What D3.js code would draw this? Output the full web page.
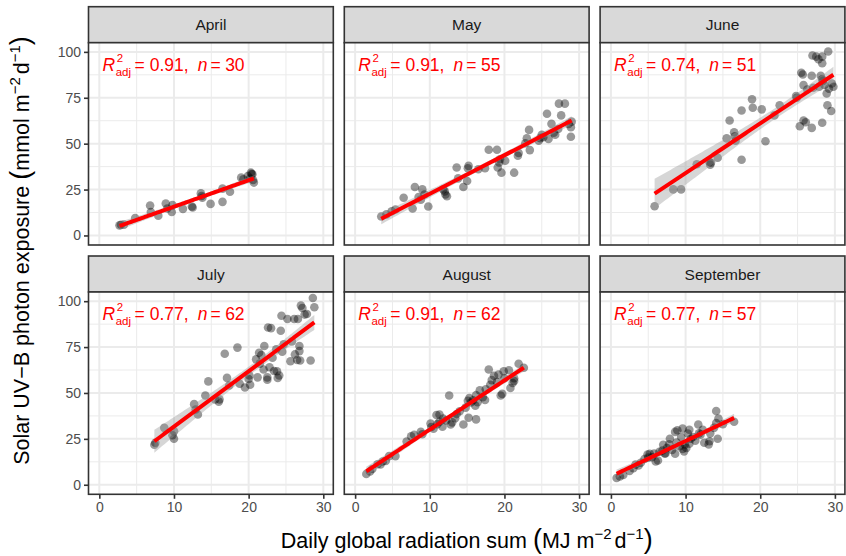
<!DOCTYPE html>
<html>
<head>
<meta charset="utf-8">
<script src="https://cdn.jsdelivr.net/npm/d3@7"></script>
<style>
  html, body { margin: 0; padding: 0; background: #ffffff; }
  svg { display: block; font-family: "Liberation Sans", Arial, Helvetica, sans-serif; }
</style>
</head>
<body>
<svg id="chart" width="846" height="556"></svg>
<script>
// Monthly facets
const months = ["April", "May", "June", "July", "August", "September"];
const r2Values = ["0.91", "0.91", "0.74", "0.77", "0.91", "0.77"];
const xTicks = [0, 10, 20, 30];
const yTicks = [0, 25, 50, 75, 100];
const xMinor = [5, 15, 25];
const yMinor = [12.5, 37.5, 62.5, 87.5];

// Daily observations: [global radiation (MJ m-2 d-1), UV-B photon exposure (mmol m-2 d-1)]
const april = [[2.7,5.5],[2.9,5.8],[3.3,5.9],[4.8,9.5],[6.8,16.3],[6.9,12.8],[7.9,10.8],[8.9,17.4],
  [9.1,14.7],[9.7,12.8],[9.8,16.5],[11.2,14.5],[12.4,15.8],[12.5,15.2],[13.6,22.9],[13.8,20.5],
  [14.9,17.2],[16.5,25.5],[16.5,18.3],[17.5,23.8],[19.0,31.5],[19.3,30.6],[19.9,32.4],[20.2,31.0],
  [20.3,34.2],[20.4,33.6],[20.5,33.3],[20.7,28.8],[20.6,30.2],[13.7,21.5]];

const may = [[3.5,10.3],[4.2,11.5],[4.9,13.2],[5.4,14.1],[6.5,20.5],[7.7,14.7],[8.0,26.4],[8.5,20.9],
  [8.8,19.5],[9.0,25.1],[9.3,22.3],[9.8,15.8],[11.8,25.1],[12.1,22.3],[12.3,21.4],[12.0,24.0],
  [13.6,37.0],[13.8,31.1],[14.5,26.4],[15.0,29.7],[15.2,37.9],[15.1,36.6],[16.5,36.1],[17.4,36.6],
  [17.9,46.7],[19.0,46.7],[19.3,39.7],[19.6,34.2],[20.1,40.7],[19.1,37.0],[19.4,41.5],[21.3,34.2],
  [21.8,43.4],[21.9,44.9],[22.8,50.2],[23.0,52.9],[23.3,57.5],[23.4,46.5],[24.6,51.6],[25.0,54.8],
  [25.2,53.5],[25.7,66.3],[25.9,52.6],[26.3,60.8],[26.8,54.9],[27.3,71.8],[27.6,65.4],[28.1,71.8],
  [28.6,60.8],[28.9,59.0],[28.9,53.8],[29.0,62.0],[24.8,53.0],[26.6,56.0],[27.2,58.0]];

const june = [[5.85,15.9],[8.35,25.1],[9.4,25.1],[11.5,38.8],[13.3,38.5],[13.4,39.6],[14.3,42.3],
  [15.5,52.9],[15.9,62.6],[16.5,56.2],[16.7,51.6],[17.5,68.1],[17.5,41.2],[18.9,74.2],[19.0,69.6],
  [20.2,68.7],[20.7,51.3],[21.9,65.4],[22.6,70.9],[24.8,76.0],[25.3,59.5],[25.8,62.6],[26.1,61.7],
  [26.9,58.6],[25.5,88.6],[25.7,87.7],[26.9,87.0],[25.8,81.9],[27.0,98.0],[27.5,97.4],[28.3,97.4],
  [28.3,93.8],[29.1,100.2],[28.3,85.0],[28.4,84.2],[27.9,81.0],[28.9,77.3],[29.0,70.9],[29.5,67.8],
  [28.3,61.4],[29.8,81.0],[29.6,82.8],[26.3,79.5],[27.1,80.5],[28.1,87.0],[28.6,82.0],[29.2,80.0],
  [16.6,54.0],[13.2,40.0],[27.8,96.0],[24.9,75.0]];

const july = [[7.37,21.8],[7.5,22.9],[8.7,31.0],[10.0,29.2],[10.0,25.1],[9.8,27.0],[12.7,43.9],
  [13.2,38.3],[14.2,48.6],[14.6,56.3],[16.0,45.3],[16.1,46.5],[16.8,71.4],[17.1,58.2],[17.4,54.1],
  [18.5,74.7],[18.8,55.0],[20.0,57.6],[20.2,54.5],[21.0,68.3],[21.2,58.5],[21.4,71.9],[21.7,70.6],
  [22.1,75.6],[22.0,62.8],[22.5,57.2],[22.6,85.7],[23.0,85.3],[22.5,58.5],[23.2,69.2],[23.7,73.8],
  [23.8,61.8],[23.9,58.2],[24.1,59.5],[24.3,83.9],[24.4,92.1],[24.7,76.5],[25.2,90.3],[25.6,67.3],
  [26.1,90.3],[26.6,90.3],[26.8,75.6],[26.8,72.8],[26.9,67.7],[27.0,97.6],[27.2,96.3],[26.5,68.0],
  [27.5,92.7],[28.3,67.7],[28.6,101.7],[28.8,96.7],[20.1,59.5],[21.5,66.0],[22.8,64.0],[23.4,62.0],
  [24.5,72.5],[25.8,78.0],[26.2,71.0],[27.8,93.0],[19.5,53.0],[15.5,46.5],[12.9,41.0]];

const august = [[1.5,5.9],[2.0,7.2],[2.3,8.6],[3.0,11.2],[3.4,11.0],[3.7,12.7],[4.1,13.0],[4.55,15.6],
  [5.4,15.6],[7.5,26.4],[7.9,27.2],[8.8,28.8],[10.1,33.4],[10.2,31.5],[10.9,38.0],[11.3,38.3],
  [11.3,34.3],[11.7,31.6],[11.8,36.0],[12.6,48.6],[12.8,32.8],[13.0,34.0],[13.6,38.5],[13.4,36.2],
  [14.5,32.8],[15.2,36.5],[15.3,47.2],[15.1,45.8],[15.5,44.8],[16.2,35.6],[16.1,43.1],[16.2,48.8],
  [16.7,51.4],[17.1,47.7],[17.4,46.2],[17.9,62.8],[18.1,54.5],[18.6,59.4],[19.2,60.0],[19.5,48.6],
  [19.7,49.5],[19.9,61.8],[20.6,62.4],[20.8,52.7],[21.1,55.4],[21.3,56.5],[21.9,65.9],[22.6,63.7],
  [12.2,35.0],[14.0,40.0],[14.8,42.0],[15.8,46.0],[16.4,45.0],[17.5,52.0],[18.3,57.0],[19.0,56.0],
  [20.0,58.0],[21.3,58.0],[9.0,27.5],[10.5,30.5],[11.0,33.0],[6.9,23.5]];

const september = [[0.76,3.7],[1.2,4.5],[1.65,5.3],[3.3,11.0],[3.7,10.5],[4.9,16.5],[5.2,16.9],
  [5.0,14.8],[6.0,12.7],[6.3,13.2],[7.0,21.8],[6.9,18.7],[7.3,17.0],[7.9,25.1],[8.6,28.8],[8.9,29.7],
  [8.6,16.9],[9.6,30.6],[9.8,18.2],[9.6,19.5],[10.3,27.9],[10.7,25.1],[10.5,22.4],[11.7,32.8],
  [12.0,27.3],[12.5,22.9],[13.2,23.7],[13.1,22.0],[14.1,40.2],[14.4,36.1],[14.3,25.1],[14.1,33.6],
  [16.5,34.3],[3.0,9.0],[4.0,12.0],[4.5,14.0],[5.5,15.0],[5.8,17.0],[6.5,18.0],[7.2,17.0],[7.5,20.0],
  [7.8,22.0],[8.2,19.0],[8.8,23.0],[9.2,21.0],[9.4,26.0],[9.9,22.0],[10.1,20.0],[10.5,30.0],
  [11.0,26.0],[11.3,24.0],[11.8,28.0],[12.3,30.0],[13.3,28.0],[13.8,31.0],[15.0,33.0],[2.5,7.5]];

const monthData = [april, may, june, july, august, september];

// ---- layout ----
const svg = d3.select("#chart");
const panelW = 244.8, panelH = 202.3, gap = 11, stripH = 36;
const left0 = 88.5, top0 = 6.7, rowStep = stripH + panelH + gap;

const x = d3.scaleLinear().domain([-1.45, 31.34]).range([0, panelW]);
const y = d3.scaleLinear().domain([-5.2, 105.0]).range([panelH, 0]);

// Student t quantile (0.975) approximation for the confidence band
const tq = df => 1.96 + 2.4 / df + 2.0 / (df * df);

function linearFit(pts) {
  const n = pts.length;
  const mx = d3.mean(pts, d => d[0]), my = d3.mean(pts, d => d[1]);
  const sxx = d3.sum(pts, d => (d[0] - mx) ** 2);
  const sxy = d3.sum(pts, d => (d[0] - mx) * (d[1] - my));
  const b = sxy / sxx, a = my - b * mx;
  const rss = d3.sum(pts, d => (d[1] - a - b * d[0]) ** 2);
  const s = Math.sqrt(rss / (n - 2));
  const t = tq(n - 2);
  const [x0, x1] = d3.extent(pts, d => d[0]);
  return d3.range(80).map(i => {
    const xv = x0 + (x1 - x0) * i / 79;
    const yv = a + b * xv;
    const se = s * Math.sqrt(1 / n + (xv - mx) ** 2 / sxx);
    return { x: xv, y: yv, lo: yv - t * se, hi: yv + t * se };
  });
}

months.forEach((month, i) => {
  const col = i % 3, row = Math.floor(i / 3);
  const px = left0 + col * (panelW + gap);
  const stripY = top0 + row * rowStep;
  const py = stripY + stripH;
  const pts = monthData[i];

  // strip
  const strip = svg.append("g").attr("transform", `translate(${px},${stripY})`);
  strip.append("rect").attr("width", panelW).attr("height", stripH)
    .attr("fill", "#d9d9d9").attr("stroke", "#333333").attr("stroke-width", 1.6);
  strip.append("text").attr("x", panelW / 2).attr("y", stripH / 2 + 5.5)
    .attr("text-anchor", "middle").attr("fill", "#1a1a1a").style("font-size", "15.5px").text(month);

  const g = svg.append("g").attr("transform", `translate(${px},${py})`);
  const clipId = `clip${i}`;
  g.append("clipPath").attr("id", clipId).append("rect").attr("width", panelW).attr("height", panelH);

  g.append("rect").attr("width", panelW).attr("height", panelH).attr("fill", "#ffffff");

  // grid
  const grid = g.append("g");
  grid.selectAll(".xm").data(xMinor).join("line")
    .attr("x1", d => x(d)).attr("x2", d => x(d)).attr("y1", 0).attr("y2", panelH)
    .attr("stroke", "#ebebeb").attr("stroke-width", 1);
  grid.selectAll(".ym").data(yMinor).join("line")
    .attr("y1", d => y(d)).attr("y2", d => y(d)).attr("x1", 0).attr("x2", panelW)
    .attr("stroke", "#ebebeb").attr("stroke-width", 1);
  grid.selectAll(".xM").data(xTicks).join("line")
    .attr("x1", d => x(d)).attr("x2", d => x(d)).attr("y1", 0).attr("y2", panelH)
    .attr("stroke", "#ebebeb").attr("stroke-width", 2);
  grid.selectAll(".yM").data(yTicks).join("line")
    .attr("y1", d => y(d)).attr("y2", d => y(d)).attr("x1", 0).attr("x2", panelW)
    .attr("stroke", "#ebebeb").attr("stroke-width", 2);

  const plot = g.append("g").attr("clip-path", `url(#${clipId})`);

  // observations
  plot.selectAll("circle").data(pts).join("circle")
    .attr("cx", d => x(d[0])).attr("cy", d => y(d[1])).attr("r", 4.3)
    .attr("fill", "#000000").attr("fill-opacity", 0.4);

  // linear fit with 95% confidence band
  const fit = linearFit(pts);
  plot.append("path").datum(fit)
    .attr("d", d3.area().x(d => x(d.x)).y0(d => y(d.lo)).y1(d => y(d.hi)))
    .attr("fill", "#999999").attr("fill-opacity", 0.4);
  plot.append("path").datum(fit)
    .attr("d", d3.line().x(d => x(d.x)).y(d => y(d.y)))
    .attr("fill", "none").attr("stroke", "#ff0000").attr("stroke-width", 4);

  // fit statistics: R with stacked superscript "2" and subscript "adj"
  const lab = g.append("g").attr("fill", "#ff0000").style("font-size", "17.5px");
  const rText = lab.append("text").attr("x", 14).attr("y", 28).style("font-style", "italic").text("R");
  const rW = rText.node().getComputedTextLength();
  lab.append("text").attr("x", 14 + rW + 1.5).attr("y", 19).style("font-size", "11.5px").text("2");
  const adj = lab.append("text").attr("x", 14 + rW + 0.5).attr("y", 33).style("font-size", "11.5px").text("adj");
  const adjW = adj.node().getComputedTextLength();
  const rest = lab.append("text").attr("x", 14 + rW + 0.5 + adjW + 3.5).attr("y", 28);
  rest.append("tspan").text("=");
  rest.append("tspan").attr("dx", 5).text(`${r2Values[i]},`);
  rest.append("tspan").attr("dx", 9).style("font-style", "italic").text("n");
  rest.append("tspan").attr("dx", 3).text("=");
  rest.append("tspan").attr("dx", 4.5).text(pts.length);

  // border
  g.append("rect").attr("width", panelW).attr("height", panelH)
    .attr("fill", "none").attr("stroke", "#333333").attr("stroke-width", 1.6);

  // axes
  if (col === 0) {
    const ya = g.append("g").call(d3.axisLeft(y).tickValues(yTicks).tickSize(4.5).tickPadding(3));
    ya.select(".domain").remove();
    ya.selectAll(".tick line").attr("stroke", "#333333").attr("stroke-width", 1.6);
    ya.selectAll(".tick text").attr("fill", "#4d4d4d").style("font-size", "14px")
      .style("font-family", "'Liberation Sans', Arial, sans-serif");
  }
  if (row === 1) {
    const xa = g.append("g").attr("transform", `translate(0,${panelH})`)
      .call(d3.axisBottom(x).tickValues(xTicks).tickSize(4.5).tickPadding(3));
    xa.select(".domain").remove();
    xa.selectAll(".tick line").attr("stroke", "#333333").attr("stroke-width", 1.6);
    xa.selectAll(".tick text").attr("fill", "#4d4d4d").style("font-size", "14px")
      .style("font-family", "'Liberation Sans', Arial, sans-serif");
  }
});

// axis titles
const panelsRight = left0 + 3 * panelW + 2 * gap;
const xt = svg.append("text").attr("x", (left0 + panelsRight) / 2).attr("y", 548)
  .attr("text-anchor", "middle").attr("fill", "#000000").style("font-size", "21.5px");
xt.append("tspan").text("Daily global radiation sum ");
xt.append("tspan").style("font-size", "27px").text("(");
xt.append("tspan").text("MJ m");
xt.append("tspan").attr("dy", -9).style("font-size", "15px").text("\u22122");
xt.append("tspan").attr("dy", 9).attr("dx", 3).text("d");
xt.append("tspan").attr("dy", -9).style("font-size", "15px").text("\u22121");
xt.append("tspan").attr("dy", 9).style("font-size", "27px").text(")");

const yCenter = (top0 + top0 + rowStep + stripH + panelH) / 2;
const yt = svg.append("text").attr("transform", `translate(29,${yCenter}) rotate(-90)`)
  .attr("text-anchor", "middle").attr("fill", "#000000").style("font-size", "21.5px");
yt.append("tspan").text("Solar UV\u2212B photon exposure ");
yt.append("tspan").style("font-size", "27px").text("(");
yt.append("tspan").text("mmol m");
yt.append("tspan").attr("dy", -9).style("font-size", "15px").text("\u22122");
yt.append("tspan").attr("dy", 9).attr("dx", 3).text("d");
yt.append("tspan").attr("dy", -9).style("font-size", "15px").text("\u22121");
yt.append("tspan").attr("dy", 9).style("font-size", "27px").text(")");
</script>
</body>
</html>
